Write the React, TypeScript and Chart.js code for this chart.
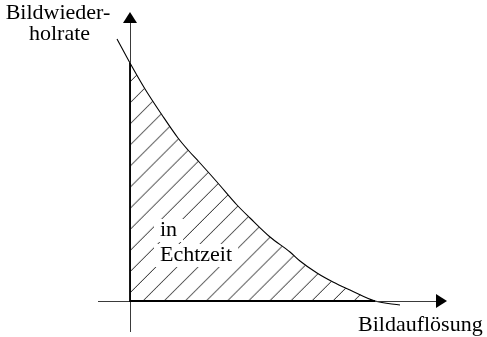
import React, { useEffect, useRef } from "react";
import { Chart, registerables } from "chart.js";

Chart.register(...registerables);

// Curve (x = resolution, y = frame rate), origin at the axes' crossing
const curveX = [-13, 0, 15, 32, 48, 58, 70, 87, 107, 120, 140, 160, 170, 187, 203, 220, 245, 270];
const curveY = [262, 238, 212, 186, 163, 151, 138, 119, 96, 83, 64, 49, 40, 28, 19, 11, 0, -4];
const regionStartX = 0;
const regionEndX = 245;

const yAxisLabel = ["Bildwieder-", "holrate"];
const xAxisLabel = "Bildauflösung";
const regionLabel = ["in", "Echtzeit"];

const X_MIN = -130, X_MAX = 357, Y_MIN = -36, Y_MAX = 301;
const FONT = '22px "Liberation Serif"';

export default function App() {
  const ref = useRef<HTMLCanvasElement>(null);

  useEffect(() => {
    const canvas = ref.current!;
    // hatch pattern
    const S = 211;
    const tile = document.createElement("canvas");
    tile.width = S;
    tile.height = S;
    const tctx = tile.getContext("2d")!;
    tctx.strokeStyle = "#1a1a1a";
    tctx.lineWidth = 1;
    for (let k = 0; k <= 20; k++) {
      const c = k * 21.1;
      tctx.beginPath();
      tctx.moveTo(c - 400, 400);
      tctx.lineTo(c + 400, -400);
      tctx.stroke();
    }
    const pctx = canvas.getContext("2d")!;
    const pattern = pctx.createPattern(tile, "repeat")!;
    try {
      pattern.setTransform(new DOMMatrix().translateSelf(0.8, 0));
    } catch (e) {}

    const curvePts = curveX.map((x, i) => ({ x, y: curveY[i] }));
    const regionPts = curvePts.filter((p) => p.x >= regionStartX && p.x <= regionEndX);

    const overlay = {
      id: "overlay",
      afterDatasetsDraw(chart: any) {
        const ctx = chart.ctx as CanvasRenderingContext2D;
        const xs = chart.scales.x;
        const ys = chart.scales.y;
        const ox = xs.getPixelForValue(0);
        const oy = ys.getPixelForValue(0);
        ctx.save();

        // white boxes + region label
        ctx.font = FONT;
        ctx.textBaseline = "alphabetic";
        ctx.textAlign = "left";
        const lx = 160;
        const baselines = [236, 261];
        regionLabel.forEach((t, i) => {
          const w = ctx.measureText(t).width;
          ctx.fillStyle = "#ffffff";
          ctx.fillRect(lx - 6, baselines[i] - 17, w + 12, 23);
        });
        ctx.fillStyle = "#000";
        regionLabel.forEach((t, i) => ctx.fillText(t, lx, baselines[i]));

        // thin axes
        ctx.strokeStyle = "#3a3a3a";
        ctx.lineWidth = 1;
        const tipX = xs.getPixelForValue(317);
        const tipY = ys.getPixelForValue(289);
        ctx.beginPath();
        ctx.moveTo(xs.getPixelForValue(-32), oy + 0.5);
        ctx.lineTo(tipX - 8, oy + 0.5);
        ctx.moveTo(ox + 0.5, ys.getPixelForValue(-31));
        ctx.lineTo(ox + 0.5, tipY + 8);
        ctx.stroke();

        // region outline (thick)
        ctx.strokeStyle = "#000";
        ctx.lineWidth = 1.8;
        ctx.beginPath();
        ctx.moveTo(ox, ys.getPixelForValue(curveY[1]));
        ctx.lineTo(ox, oy);
        ctx.lineTo(xs.getPixelForValue(regionEndX), oy);
        ctx.stroke();

        // arrow heads
        ctx.fillStyle = "#000";
        ctx.beginPath();
        ctx.moveTo(tipX, oy);
        ctx.lineTo(tipX - 11, oy - 7);
        ctx.lineTo(tipX - 11, oy + 7);
        ctx.closePath();
        ctx.fill();
        ctx.beginPath();
        ctx.moveTo(ox, tipY);
        ctx.lineTo(ox - 7, tipY + 11);
        ctx.lineTo(ox + 7, tipY + 11);
        ctx.closePath();
        ctx.fill();

        // axis labels
        ctx.font = FONT;
        ctx.textAlign = "center";
        ctx.fillText(yAxisLabel[0], 58, 19);
        ctx.fillText(yAxisLabel[1], 59.5, 39.5);
        ctx.textAlign = "left";
        ctx.fillText(xAxisLabel, 358, 331);
        ctx.restore();
      },
    };

    const chart = new Chart(canvas, {
      type: "line",
      data: {
        datasets: [
          {
            data: regionPts,
            fill: "origin",
            backgroundColor: pattern as any,
            borderWidth: 0,
            pointRadius: 0,
            cubicInterpolationMode: "monotone",
          },
          {
            data: curvePts,
            fill: false,
            borderColor: "#000",
            borderWidth: 1.1,
            pointRadius: 0,
            cubicInterpolationMode: "monotone",
          },
        ],
      },
      options: {
        responsive: false,
        animation: false,
        events: [],
        layout: { padding: 0 },
        plugins: { legend: { display: false }, tooltip: { enabled: false } },
        scales: {
          x: { type: "linear", min: X_MIN, max: X_MAX, display: false },
          y: { type: "linear", min: Y_MIN, max: Y_MAX, display: false },
        },
      },
      plugins: [overlay],
    });
    let alive = true;
    const redraw = () => {
      if (alive) chart.draw();
    };
    const fonts = (document as any).fonts;
    if (fonts) {
      fonts.load(FONT, "Bildauflösung").then(redraw).catch(() => {});
    }
    return () => {
      alive = false;
      chart.destroy();
    };
  }, []);

  return (
    <div style={{ position: "absolute", left: 0, top: 0, width: 487, height: 337, background: "#fff" }}>
      <canvas ref={ref} width={487} height={337} style={{ display: "block" }} />
    </div>
  );
}
